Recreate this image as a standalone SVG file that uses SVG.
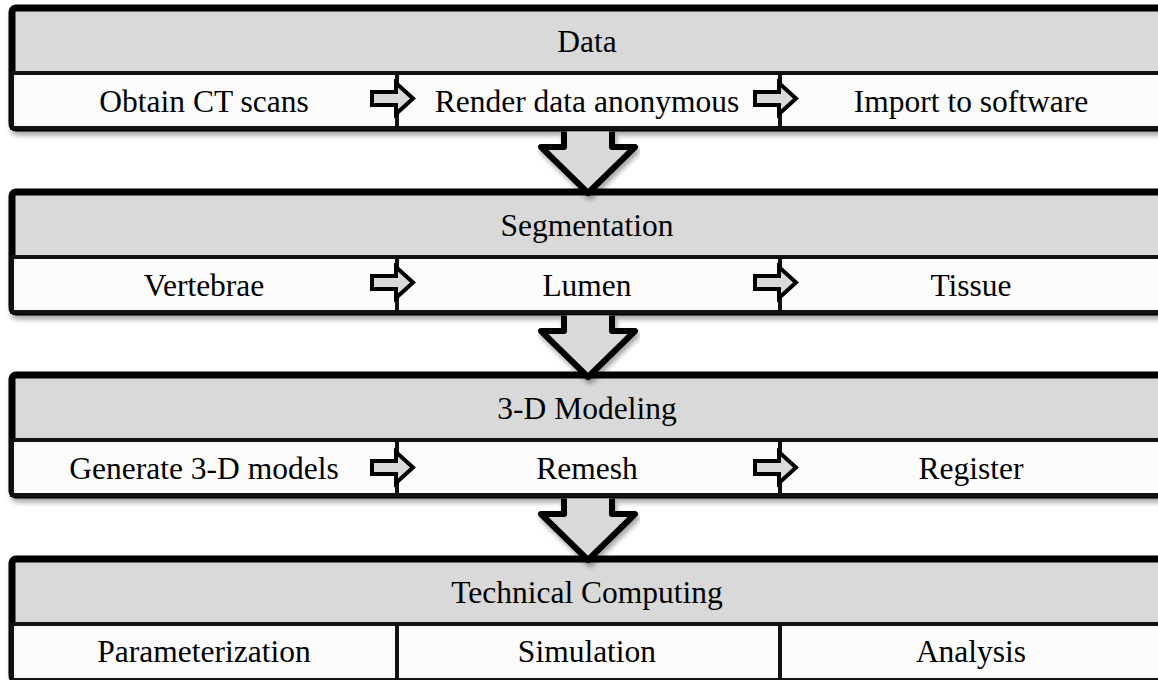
<svg xmlns="http://www.w3.org/2000/svg" width="1158" height="680" viewBox="0 0 1158 680">
  <defs>
    <filter id="sh" x="-5%" y="-10%" width="110%" height="130%">
      <feDropShadow dx="2" dy="4" stdDeviation="2.5" flood-color="#000" flood-opacity="0.35"/>
    </filter>
    <style>
      .panel { fill: #d9d9d9; stroke: #000; stroke-width: 7; }
      .row { fill: #fbfbfb; stroke: #111; stroke-width: 4; }
      .div { stroke: #111; stroke-width: 4; }
      .t { font-family: 'Liberation Serif', serif; font-size: 31.5px; fill: #000; text-anchor: middle; }
      .down { fill: #d9d9d9; stroke: #000; stroke-width: 6; stroke-linejoin: round; }
      .right { fill: #d9d9d9; stroke: #000; stroke-width: 4; stroke-linejoin: miter; }
    </style>
  </defs>
  <rect width="1158" height="680" fill="#fff"/>

  <!-- Panel 1 -->
  <g id="data">
    <rect class="panel" x="12" y="8" width="1154" height="120" rx="4" filter="url(#sh)"/>
    <rect class="row" x="12" y="73" width="1154" height="55"/>
    <text class="t" x="587" y="52">Data</text>
    <g id="obtain-ct"><text class="t" x="204" y="112">Obtain CT scans</text></g>
    <line class="div" x1="397" y1="71" x2="397" y2="128"/>
    <g id="render-anon"><text class="t" x="587" y="112">Render data anonymous</text></g>
    <line class="div" x1="780" y1="71" x2="780" y2="128"/>
    <g id="import"><text class="t" x="971" y="112">Import to software</text></g>
  </g>

  <!-- Panel 2 -->
  <g id="segmentation">
    <rect class="panel" x="12" y="192" width="1154" height="120" rx="4" filter="url(#sh)"/>
    <rect class="row" x="12" y="257" width="1154" height="55"/>
    <text class="t" x="587" y="236">Segmentation</text>
    <g id="vertebrae"><text class="t" x="204" y="296">Vertebrae</text></g>
    <line class="div" x1="397" y1="255" x2="397" y2="312"/>
    <g id="lumen"><text class="t" x="587" y="296">Lumen</text></g>
    <line class="div" x1="780" y1="255" x2="780" y2="312"/>
    <g id="tissue"><text class="t" x="971" y="296">Tissue</text></g>
  </g>

  <!-- Panel 3 -->
  <g id="modeling">
    <rect class="panel" x="12" y="375" width="1154" height="120" rx="4" filter="url(#sh)"/>
    <rect class="row" x="12" y="440" width="1154" height="55"/>
    <text class="t" x="587" y="419">3-D Modeling</text>
    <g id="generate"><text class="t" x="204" y="479">Generate 3-D models</text></g>
    <line class="div" x1="397" y1="438" x2="397" y2="495"/>
    <g id="remesh"><text class="t" x="587" y="479">Remesh</text></g>
    <line class="div" x1="780" y1="438" x2="780" y2="495"/>
    <g id="register"><text class="t" x="971" y="479">Register</text></g>
  </g>

  <!-- Panel 4 -->
  <g id="computing">
    <rect class="panel" x="12" y="559" width="1154" height="121" rx="4" filter="url(#sh)"/>
    <rect class="row" x="12" y="624" width="1154" height="56"/>
    <text class="t" x="587" y="603">Technical Computing</text>
    <g id="parameterization"><text class="t" x="204" y="662">Parameterization</text></g>
    <line class="div" x1="397" y1="622" x2="397" y2="680"/>
    <g id="simulation"><text class="t" x="587" y="662">Simulation</text></g>
    <line class="div" x1="780" y1="622" x2="780" y2="680"/>
    <g id="analysis"><text class="t" x="971" y="662">Analysis</text></g>
  </g>

  <!-- Connectors -->
  <g id="connectors">
    <path class="right" d="M372,92 L396,92 L396,83 L413,98.5 L396,114 L396,105 L372,105 Z"/>
    <path class="right" d="M755,92 L779,92 L779,83 L796,98.5 L779,114 L779,105 L755,105 Z"/>
    <path class="right" d="M372,276 L396,276 L396,267 L413,282.5 L396,298 L396,289 L372,289 Z"/>
    <path class="right" d="M755,276 L779,276 L779,267 L796,282.5 L779,298 L779,289 L755,289 Z"/>
    <path class="right" d="M372,461 L396,461 L396,452 L413,467.5 L396,483 L396,474 L372,474 Z"/>
    <path class="right" d="M755,461 L779,461 L779,452 L796,467.5 L779,483 L779,474 L755,474 Z"/>
    <path class="down" d="M564,131.5 L564,147 L541,147 L588,193 L635,147 L612,147 L612,131.5" filter="url(#sh)"/>
    <path class="down" d="M564,315.5 L564,331 L541,331 L588,377 L635,331 L612,331 L612,315.5" filter="url(#sh)"/>
    <path class="down" d="M564,498.5 L564,514 L541,514 L588,560 L635,514 L612,514 L612,498.5" filter="url(#sh)"/>
  </g>
</svg>
